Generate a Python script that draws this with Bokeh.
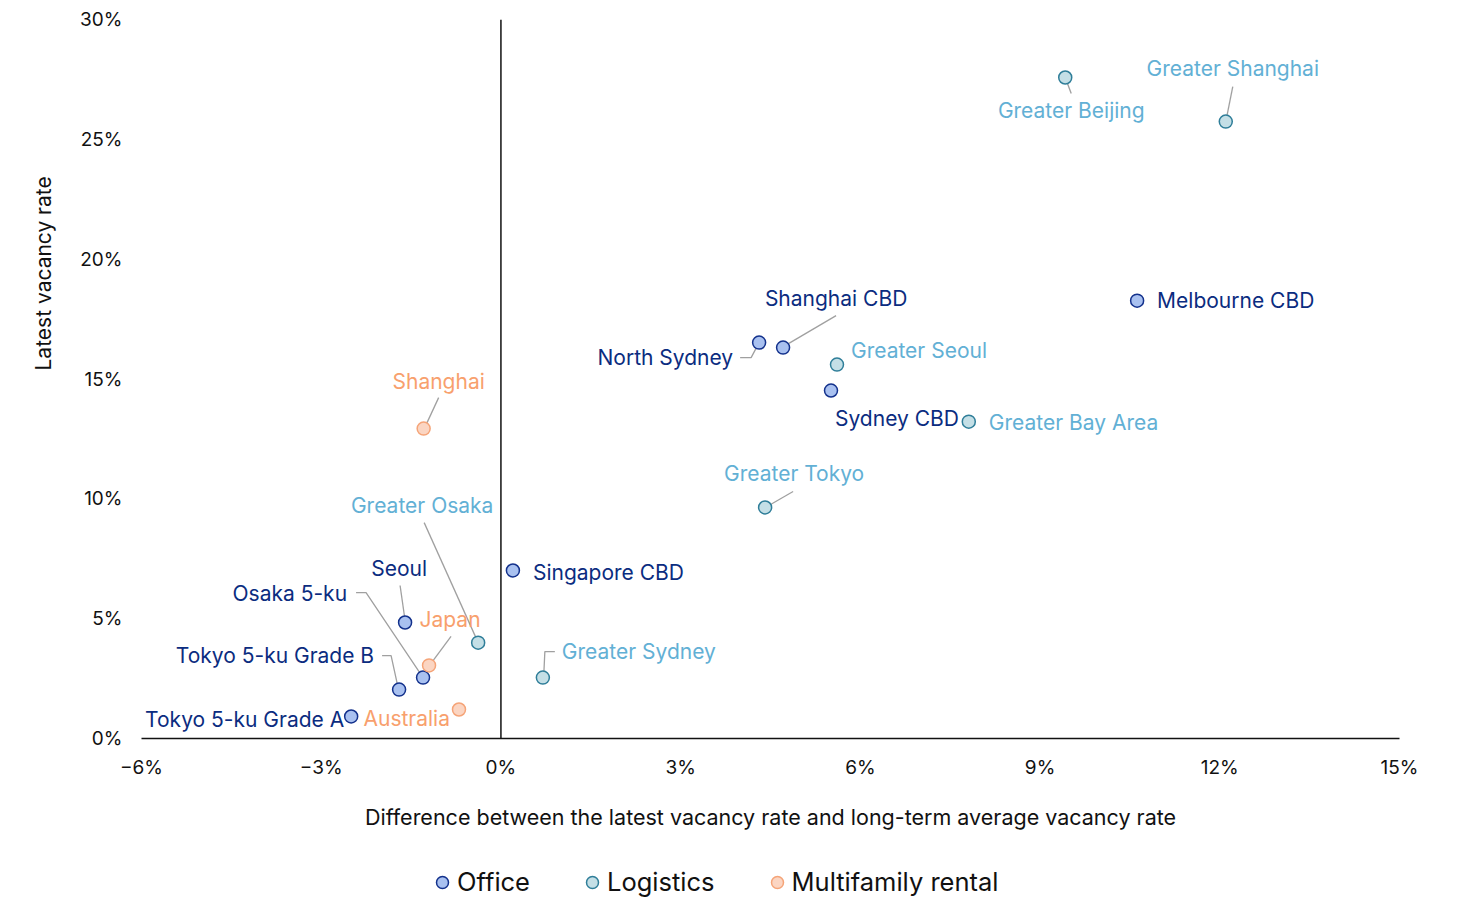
import math
from bokeh.plotting import figure
from bokeh.layouts import column
from bokeh.models import (ColumnDataSource, Span, Title, Legend, LegendItem,
                          FixedTicker, CustomJSTickFormatter, Range1d)
from bokeh.core.properties import value
from bokeh.embed import file_html
from bokeh.resources import INLINE

# ---------------- data (in %) ----------------
office_names = ["Melbourne CBD", "Shanghai CBD", "North Sydney", "Sydney CBD",
                "Singapore CBD", "Seoul", "Osaka 5-ku", "Tokyo 5-ku Grade B",
                "Tokyo 5-ku Grade A"]
office_x = [10.62, 4.71, 4.31, 5.51, 0.20, -1.60, -1.30, -1.70, -2.50]
office_y = [18.27, 16.31, 16.52, 14.52, 7.01, 4.84, 2.54, 2.04, 0.92]

logistics_names = ["Greater Beijing", "Greater Shanghai", "Greater Seoul",
                   "Greater Bay Area", "Greater Tokyo", "Greater Osaka",
                   "Greater Sydney"]
logistics_x = [9.42, 12.10, 5.61, 7.81, 4.41, -0.38, 0.70]
logistics_y = [27.58, 25.74, 15.60, 13.22, 9.64, 4.00, 2.54]

mf_names = ["Shanghai", "Japan", "Australia"]
mf_x = [-1.29, -1.20, -0.70]
mf_y = [12.93, 3.05, 1.21]

series_names = ["Office", "Logistics", "Multifamily rental"]

x_ticks = [-6, -3, 0, 3, 6, 9, 12, 15]
y_ticks = [0, 5, 10, 15, 20, 25, 30]

# ---------------- styles ----------------
FONT = "Inter"
OFFICE = dict(fill="#a9c1f0", line="#13318c", text="#0b2c80")
LOGI = dict(fill="#c4dfe6", line="#2f7e99", text="#62b0d5")
MF = dict(fill="#fbd5c2", line="#f5a478", text="#f8a06d")

# label layout: pixel offsets relative to the point (dx, dy down-positive),
# alignment, and leader path (pixel offsets from point)
label_layout = {
    "Melbourne CBD": (20, 0, "left", None),
    "Shanghai CBD": (53, -49, "center", [(53, -32), (2, -2)]),
    "North Sydney": (-26, 15, "right", [(-19, 15), (-8, 15), (0, 0)]),
    "Sydney CBD": (4, 28, "left", None),
    "Singapore CBD": (20, 2, "left", None),
    "Seoul": (-6, -54, "center", [(-5, -37), (0, -2)]),
    "Osaka 5-ku": (-76, -84, "right", [(-67, -85), (-57, -85), (0, 0)]),
    "Tokyo 5-ku Grade B": (-25, -34, "right", [(-17, -34), (-8, -34), (-1, -2)]),
    "Tokyo 5-ku Grade A": (-7, 3, "right", None),
    "Greater Beijing": (6, 33, "center", [(6, 16), (0, 0)]),
    "Greater Shanghai": (7, -53, "center", [(7, -35), (0, 0)]),
    "Greater Seoul": (14, -14, "left", None),
    "Greater Bay Area": (20, 1, "left", None),
    "Greater Tokyo": (29, -34, "center", [(28, -16), (2, -1)]),
    "Greater Osaka": (-56, -137, "center", [(-54, -120), (0, 0)]),
    "Greater Sydney": (19, -26, "left", [(12, -26), (2, -26), (1, -5)]),
    "Shanghai": (15, -47, "center", [(15, -31), (2, -3)]),
    "Japan": (21, -46, "center", [(22, -29), (2, -2)]),
    "Australia": (-9, 9, "right", None),
}

W, H = 1466, 850
LEG_H = 904 - H
BL, BR, BT, BB = 141, 67, 19, 112
XR = (x_ticks[0], x_ticks[-1])
YR = (y_ticks[0], y_ticks[-1])
px_x = (W - BL - BR) / (XR[1] - XR[0])
px_y = (H - BT - BB) / (YR[1] - YR[0])

p = figure(width=W, height=H, x_range=XR, y_range=YR,
           output_backend="svg", toolbar_location=None,
           min_border_left=BL, min_border_right=BR, min_border_top=BT,
           min_border_bottom=BB)
p.outline_line_color = None
p.xgrid.grid_line_color = None
p.ygrid.grid_line_color = None
p.background_fill_color = "white"

# axes
p.xaxis.ticker = FixedTicker(ticks=x_ticks)
p.yaxis.ticker = FixedTicker(ticks=y_ticks)
p.xaxis.formatter = CustomJSTickFormatter(
    code="return (tick < 0 ? '\u2212' + (-tick) : tick) + '%';")
p.yaxis.formatter = CustomJSTickFormatter(code="return tick + '%';")
for ax in (p.xaxis, p.yaxis):
    ax.major_tick_line_color = None
    ax.minor_tick_line_color = None
    ax.major_tick_out = 0
    ax.major_tick_in = 0
    ax.minor_tick_out = 0
    ax.major_label_text_font = FONT
    ax.major_label_text_font_size = "19px"
    ax.major_label_text_color = "#111111"
p.yaxis.major_label_standoff = 19
p.xaxis.major_label_standoff = 17
p.yaxis.axis_line_color = None
p.xaxis.axis_line_color = "#111111"
p.xaxis.axis_line_width = 1.5
p.xaxis.axis_label = "Difference between the latest vacancy rate and long-term average vacancy rate"
p.xaxis.axis_label_text_font = FONT
p.xaxis.axis_label_text_font_size = "21.5px"
p.xaxis.axis_label_text_font_style = "normal"
p.xaxis.axis_label_text_color = "#111111"
p.xaxis.axis_label_standoff = 22

p.add_layout(Span(location=0, dimension="height", line_color="#111111", line_width=1.5))

ytitle = Title(text="Latest vacancy rate", align="left", offset=368,
               text_font=FONT, text_font_size="21px", text_font_style="normal",
               text_color="#111111", standoff=43)
p.add_layout(ytitle, "left")

groups = [
    (office_names, office_x, office_y, OFFICE),
    (logistics_names, logistics_x, logistics_y, LOGI),
    (mf_names, mf_x, mf_y, MF),
]

# leader lines
lx, ly = [], []
for names, xs, ys, st in groups:
    for n, x, y in zip(names, xs, ys):
        lay = label_layout[n]
        if lay[3]:
            lx.append([x + dx / px_x for dx, dy in lay[3]])
            ly.append([y - dy / px_y for dx, dy in lay[3]])
p.multi_line(lx, ly, line_color="#a0a0a0", line_width=1.3)

for names, xs, ys, st in groups:
    src = ColumnDataSource(dict(x=xs, y=ys, name=names))
    p.scatter("x", "y", source=src, size=13, fill_color=st["fill"],
              line_color=st["line"], line_width=1.5)
    for n, x, y in zip(names, xs, ys):
        dx, dy, align, _ = label_layout[n]
        p.text(x=[x], y=[y], text=[n], x_offset=dx, y_offset=dy,
               text_align=align, text_baseline="middle",
               text_font=value(FONT), text_font_size="21px",
               text_color=st["text"])

# ---------------- legend strip ----------------
lg = figure(width=W, height=LEG_H, x_range=Range1d(0, 1), y_range=Range1d(0, 1),
            output_backend="svg", toolbar_location=None,
            x_axis_location=None, y_axis_location=None,
            min_border=0, min_border_left=0, min_border_right=0,
            min_border_top=0, min_border_bottom=0)
lg.outline_line_color = None
lg.xgrid.grid_line_color = None
lg.ygrid.grid_line_color = None
items = []
for nm, (_, _, _, st) in zip(series_names, groups):
    r = lg.scatter(x=[float("nan")], y=[float("nan")], size=12,
                   fill_color=st["fill"], line_color=st["line"], line_width=1.5)
    items.append(LegendItem(label=nm, renderers=[r]))
legend = Legend(items=items, orientation="horizontal", location=(286, 7),
                label_text_font=FONT, label_text_font_size="25.5px",
                label_text_color="#111111", glyph_width=30, glyph_height=30,
                label_standoff=0, spacing=47, padding=0, margin=0,
                border_line_color=None, background_fill_alpha=0)
lg.add_layout(legend, "center")

layout = column(p, lg, spacing=0)
open("out.html", "w").write(file_html(layout, INLINE))
